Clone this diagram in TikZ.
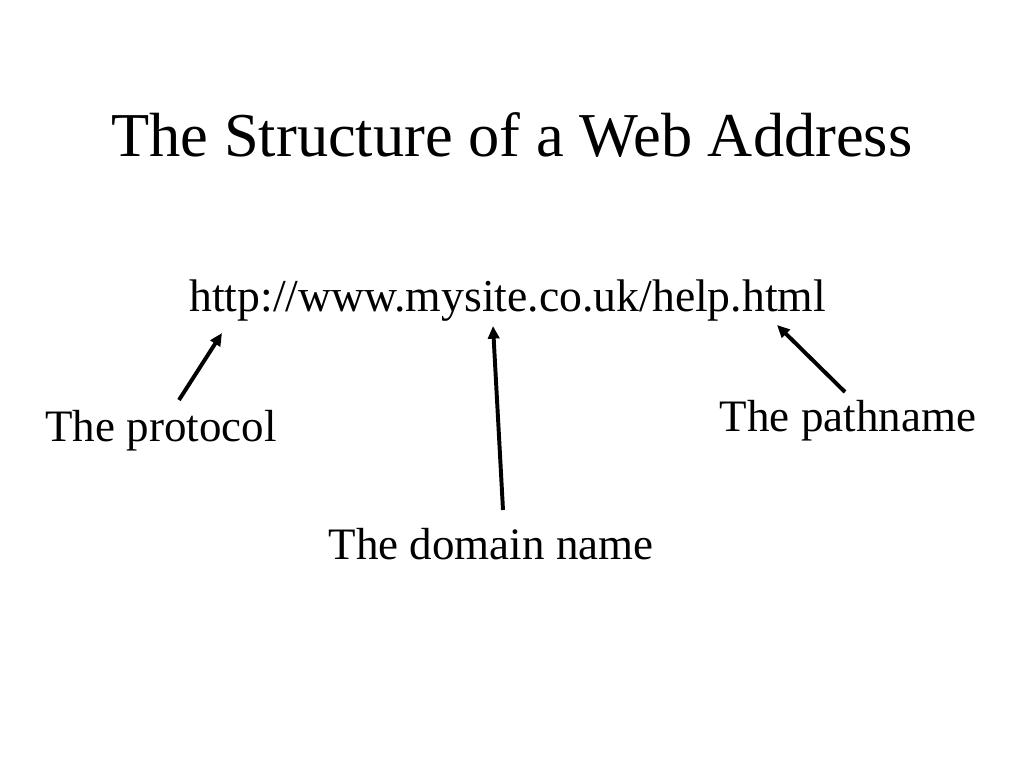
\documentclass[tikz,border=0pt]{standalone}
\usepackage{fontspec}
\setmainfont{Liberation Serif}
\usetikzlibrary{arrows.meta}
\begin{document}
\begin{tikzpicture}[every node/.style={anchor=base,inner sep=0pt,font=\fontsize{32}{38}\selectfont}]
      \useasboundingbox (0,0) rectangle (25.6,19.2);
      \draw
        (12.8,15.275) node[font=\fontsize{44.4}{52}\selectfont] (title){The Structure of a Web Address}
        (12.69,11.4) node[font=\fontsize{32.5}{38}\selectfont] (url){http://www.mysite.co.uk/help.html}
        (4.025,8.15) node (protocol){The protocol}
        (12.275,5.2) node (domain){The domain name}
        (21.2,8.4) node (pathname){The pathname};
      \coordinate (protocol tail) at (4.475,9.2);
      \coordinate (protocol tip) at (5.55,10.875);
      \coordinate (domain tail) at (12.575,6.45);
      \coordinate (domain tip) at (12.325,11.05);
      \coordinate (pathname tail) at (21.125,9.4);
      \coordinate (pathname tip) at (19.425,11.075);
      \begin{scope}[-{Triangle[length=9pt,width=8pt]},line width=2.8pt]
        \draw (protocol tail) to (protocol tip);
        \draw (domain tail) to (domain tip);
        \draw (pathname tail) to (pathname tip);
      \end{scope}
    \end{tikzpicture}
\end{document}
